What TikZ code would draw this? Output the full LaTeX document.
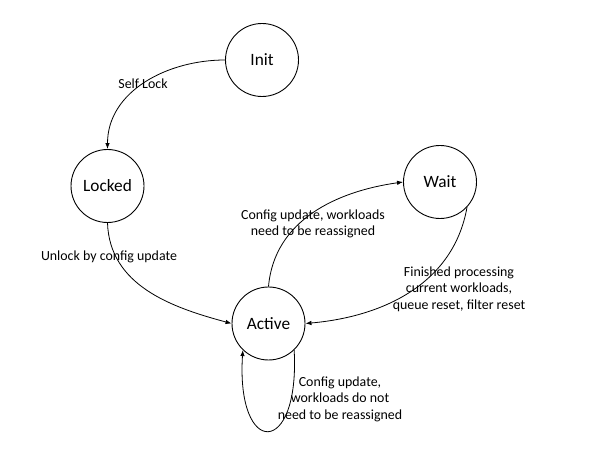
\documentclass[tikz,border=0pt]{standalone}
\usepackage{fontspec}
\setmainfont{Carlito}
\usetikzlibrary{arrows.meta}
\tikzset{
  state/.style={draw, circle, line width=0.9pt, minimum size=73pt, inner sep=0pt, font=\fontsize{17.3}{20}\selectfont},
  trans/.style={line width=0.8pt, -{Latex[length=6pt,width=4.5pt]}},
  lbl/.style={align=center, inner sep=0pt, font=\fontsize{13.9}{16.6}\selectfont}
}
\begin{document}
\begin{tikzpicture}[x=1pt,y=1pt]
\useasboundingbox (0,0) rectangle (608,452);
\node[state] (I) at (262,392) {Init};
\node[state] (L) at (107.5,266) {Locked};
\node[state] (W) at (440,270) {Wait};
\node[state] (A) at (268.5,128.5) {Active};

\draw[trans] (I.west) to[out=180,in=90] (L.north);
\draw[trans] (L.south) to[out=-88,in=165] (A.west);
\draw[trans] (A.north) to[out=85,in=188] (W.west);
\draw[trans] (W.-43) to[out=-100,in=5] (A.east);
\draw[trans] (A.-46) .. controls (300,-6) and (236,-6) .. (A.-134);

\node[lbl] (t1) at (143,368) {Self Lock};
\node[lbl] (t2) at (109,195) {Unlock by config update};
\node[lbl] (t3) at (313,228) {Config update, workloads\\need to be reassigned};
\node[lbl] (t4) at (459,163) {Finished processing\\current workloads,\\queue reset, filter reset};
\node[lbl] (t5) at (340,53) {Config update,\\workloads do not\\need to be reassigned};
\end{tikzpicture}
\end{document}
